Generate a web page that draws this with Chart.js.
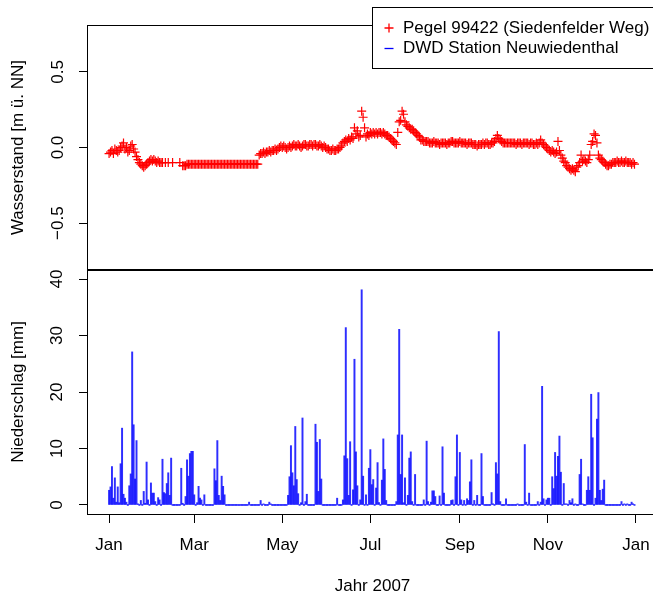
<!DOCTYPE html>
<html>
<head>
<meta charset="utf-8">
<title>Wasserstand und Niederschlag 2007</title>
<script src="https://cdn.jsdelivr.net/npm/chart.js@4/dist/chart.umd.min.js"></script>
<style>
  html, body { margin: 0; padding: 0; background: #fff; overflow: hidden; width: 653px; height: 595px; }
  #wrap { position: relative; width: 653px; height: 595px; overflow: hidden; }
  canvas { position: absolute; left: 0; }
  #levelChart { top: 0; }
  #rainChart { top: 268px; }
</style>
</head>
<body>
<div id="wrap">
  <canvas id="levelChart" width="660" height="272"></canvas>
  <canvas id="rainChart" width="660" height="327"></canvas>
</div>
<script>
// Daily water level at gauge 99422 in 2007, m above NN (index = day of year, 0 = 1 Jan; null = no reading)
const levelM = [
  -0.04,-0.03,-0.02,-0.04,-0.01,-0.02,-0.03,-0.02,0.00,0.01,
  0.03,-0.01,0.00,-0.03,-0.02,0.01,0.02,-0.01,-0.03,-0.06,
  -0.08,-0.10,-0.11,-0.12,-0.13,-0.12,-0.11,-0.10,-0.09,-0.08,
  -0.09,-0.08,-0.09,-0.10,-0.09,-0.10,-0.10,-0.10,null,-0.10,
  null,-0.10,null,null,-0.10,null,null,null,null,-0.10,
  null,-0.12,-0.12,-0.12,-0.11,-0.11,-0.11,-0.11,-0.11,-0.11,
  -0.11,-0.11,-0.11,-0.11,-0.11,-0.11,-0.11,-0.11,-0.11,-0.11,
  -0.11,-0.11,-0.11,-0.11,-0.11,-0.11,-0.11,-0.11,-0.11,-0.11,
  -0.11,-0.11,-0.11,-0.11,-0.11,-0.11,-0.11,-0.11,-0.11,-0.11,
  -0.11,-0.11,-0.11,-0.11,-0.11,-0.11,-0.11,-0.11,-0.11,-0.11,
  -0.11,-0.11,-0.11,-0.11,-0.05,-0.04,-0.04,-0.03,-0.04,-0.03,
  -0.03,-0.02,-0.03,-0.02,-0.02,-0.01,-0.02,-0.01,0.00,0.01,
  0.00,0.01,0.00,-0.01,0.00,0.01,0.00,0.01,0.02,0.01,
  0.01,0.02,0.01,0.00,0.01,0.02,0.02,0.01,0.01,0.02,
  0.02,0.01,0.02,0.02,0.01,0.01,0.02,0.01,0.00,0.01,
  0.00,-0.01,-0.01,-0.02,-0.02,-0.01,-0.02,-0.02,-0.01,-0.01,
  0.00,0.01,0.03,0.04,0.05,0.04,0.06,0.05,0.07,0.06,
  0.13,0.09,0.11,0.07,0.08,0.24,0.20,0.13,0.07,0.09,
  0.08,0.10,0.09,0.10,0.09,0.10,0.09,0.10,0.10,0.09,
  0.10,0.09,0.08,0.08,0.07,0.06,0.05,0.04,0.03,0.02,
  0.10,0.17,0.18,0.24,0.22,0.17,0.15,0.14,0.13,0.12,
  0.12,0.11,0.10,0.09,0.08,0.07,0.05,0.05,0.04,0.04,
  0.04,0.04,0.03,0.03,0.03,0.04,0.03,0.03,0.03,0.02,
  0.03,0.03,0.03,0.03,0.02,0.03,0.03,0.04,0.04,0.03,
  0.03,0.03,0.03,0.04,0.03,0.03,0.03,0.03,0.02,0.03,
  0.03,0.03,0.02,0.02,0.02,0.01,0.02,0.02,0.02,0.03,
  0.02,0.03,0.03,0.02,0.02,0.03,0.03,0.04,0.06,0.08,
  0.06,0.05,0.04,0.03,0.03,0.03,0.03,0.03,0.03,0.03,
  0.03,0.03,0.02,0.03,0.03,0.03,0.02,0.03,0.03,0.03,
  0.03,0.02,0.03,0.03,0.02,0.02,0.03,0.02,0.03,0.05,
  0.03,0.02,0.01,0.00,-0.01,-0.02,-0.03,-0.02,-0.03,-0.04,
  -0.03,0.04,-0.02,-0.05,-0.07,-0.09,-0.10,-0.12,-0.13,-0.14,
  -0.15,-0.14,-0.15,-0.16,-0.13,-0.12,-0.10,-0.05,-0.09,-0.08,
  -0.09,-0.10,-0.08,-0.05,0.02,0.04,0.09,0.08,0.03,-0.05,
  -0.07,-0.08,-0.09,-0.10,-0.11,-0.12,-0.12,-0.11,-0.11,-0.10,
  -0.10,-0.10,-0.09,-0.10,-0.10,-0.09,-0.10,-0.10,-0.09,-0.10,
  -0.10,-0.10,-0.11,-0.10,-0.11
];

// Days of 2007 with precipitation at DWD station Neuwiedenthal (0 = 1 Jan) and the amount in mm
const rainDay = [
  0,1,2,3,4,5,6,7,8,9,10,11,12,14,15,16,17,18,19,20,22,24,25,26,27,29,30,31,32,34,35,37,38,39,40,41,42,43,
  50,51,53,54,55,56,57,58,59,61,62,63,64,66,73,74,75,76,77,78,79,80,97,105,107,111,112,
  124,125,126,127,128,129,130,131,133,134,136,137,143,144,145,146,147,158,162,163,164,165,166,167,169,170,171,172,174,175,176,178,
  180,181,182,183,185,186,187,189,190,191,192,199,200,201,202,203,204,205,207,208,209,210,212,218,220,221,223,224,225,226,229,231,232,
  237,238,240,241,243,244,246,248,249,250,251,253,255,258,259,265,266,268,269,270,271,275,283,288,289,291,297,299,
  300,301,303,304,305,307,308,309,310,311,312,313,315,316,317,319,320,321,323,326,327,328,331,332,333,334,335,337,338,339,340,341,342,343,
  355,357,359,362,363
];
const rainMm = [
  2.6,3.2,6.8,1.2,4.8,0.5,3.2,0.4,7.3,13.6,1.9,1.2,0.5,3.4,5.5,27.1,14.2,4.6,11.4,0.2,0.8,2.4,0.3,7.6,0.9,3.9,2.1,2.1,0.6,1.3,0.9,8.1,2.2,2.0,3.8,5.7,1.7,8.3,
  6.5,0.3,1.5,8.0,5.1,9.1,9.5,9.5,1.8,0.4,3.3,1.2,0.9,1.8,6.4,4.3,11.4,1.7,0.8,5.1,3.3,1.8,0.5,0.8,0.2,0.5,0.2,
  1.7,5.0,10.5,5.7,3.4,13.9,4.5,2.0,0.4,15.4,0.6,1.9,14.3,11.1,2.4,11.6,4.6,1.2,0.9,8.7,31.4,8.2,1.7,11.2,2.7,25.8,9.4,3.4,0.9,38.1,5.1,1.8,
  6.5,9.8,3.6,4.5,3.0,7.5,0.4,4.4,11.7,6.3,0.8,0.6,12.4,31.1,5.4,12.4,0.4,4.8,1.7,8.3,9.4,0.6,5.4,0.9,11.3,0.6,0.5,2.5,2.5,1.5,1.6,10.3,2.1,
  0.8,0.9,5.0,12.4,9.3,0.9,0.8,1.1,0.8,4.1,8.0,0.8,1.7,9.1,1.5,2.2,0.2,7.5,5.5,30.7,0.6,1.1,0.2,10.7,0.5,2.1,0.6,0.5,
  21.0,1.1,0.9,1.2,1.2,5.0,2.9,9.3,5.1,8.6,12.2,5.8,3.8,0.2,0.2,0.8,0.4,1.1,0.2,5.4,8.1,0.2,2.6,5.0,2.6,19.6,11.9,1.2,15.2,19.9,2.6,0.8,2.8,4.4,
  0.6,0.2,0.2,0.5,0.2
];
const daysInYear = 365;

// Axis ticks
const monthTickDays = [0, 59, 120, 181, 243, 304, 365];
const monthTickLabels = ['Jan', 'Mar', 'May', 'Jul', 'Sep', 'Nov', 'Jan'];
const levelTicks = [-0.5, 0, 0.5];
const levelTickLabels = ['\u22120.5', '0.0', '0.5'];
const rainTicks = [0, 10, 20, 30, 40];
const rainTickLabels = ['0', '10', '20', '30', '40'];

const legendLabels = ['Pegel 99422 (Siedenfelder Weg)', 'DWD Station Neuwiedenthal'];

// Point and bar data for the library
const levelPoints = levelM.map((v, i) => ({ x: i, y: v }));
const rainByDay = new Map(rainDay.map((d, i) => [d, rainMm[i]]));
const rainBars = [];
for (let d = 0; d < daysInYear; d++) rainBars.push({ x: d, y: rainByDay.has(d) ? rainByDay.get(d) : 0 });

const FONT_FAMILY = "'Liberation Sans', Arial, Helvetica, sans-serif";
const FONT_SIZE = 17;
Chart.defaults.font.family = FONT_FAMILY;
Chart.defaults.font.size = FONT_SIZE;
Chart.defaults.color = '#000';

const RED = '#ff0000';
const BLUE = '#0000ff';

// Frame lines around the plot region
const framePlugin = {
  id: 'frame',
  afterDatasetsDraw(chart, args, opts) {
    const { ctx, chartArea: a } = chart;
    ctx.save();
    ctx.strokeStyle = '#000';
    ctx.lineWidth = 1;
    ctx.beginPath();
    if (opts.top) { ctx.moveTo(a.left - 1, a.top + 0.5); ctx.lineTo(a.right, a.top + 0.5); }
    if (opts.bottomInside) { ctx.moveTo(a.left - 1, a.bottom - 0.5); ctx.lineTo(a.right, a.bottom - 0.5); }
    if (opts.bottomOutside) { ctx.moveTo(a.left - 1, a.bottom + 0.5); ctx.lineTo(a.right, a.bottom + 0.5); }
    ctx.moveTo(a.left - 0.5, a.top); ctx.lineTo(a.left - 0.5, a.bottom + (opts.bottomOutside ? 1 : 0));
    ctx.stroke();
    ctx.restore();
  }
};

// Boxed legend in the upper right corner of the water level panel
const boxLegendPlugin = {
  id: 'boxLegend',
  afterDraw(chart) {
    const ctx = chart.ctx;
    const x0 = 372, y0 = 7, w = 300, h = 61;
    ctx.save();
    ctx.fillStyle = '#fff';
    ctx.fillRect(x0, y0, w, h);
    ctx.strokeStyle = '#000';
    ctx.lineWidth = 1;
    ctx.strokeRect(x0 + 0.5, y0 + 0.5, w, h);
    const rows = [y0 + 21, y0 + 41.5];
    const mx = 389;
    ctx.strokeStyle = RED;
    ctx.lineWidth = 1.3;
    ctx.beginPath();
    ctx.moveTo(mx - 4.5, rows[0]); ctx.lineTo(mx + 4.5, rows[0]);
    ctx.moveTo(mx, rows[0] - 4.5); ctx.lineTo(mx, rows[0] + 4.5);
    ctx.stroke();
    ctx.strokeStyle = BLUE;
    ctx.beginPath();
    ctx.moveTo(mx - 4.5, rows[1]); ctx.lineTo(mx + 4.5, rows[1]);
    ctx.stroke();
    ctx.fillStyle = '#000';
    ctx.font = FONT_SIZE + 'px ' + FONT_FAMILY;
    ctx.textBaseline = 'middle';
    ctx.textAlign = 'left';
    ctx.fillText(legendLabels[0], 403, rows[0]);
    ctx.fillText(legendLabels[1], 403, rows[1]);
    ctx.restore();
  }
};

const xRange = { min: -14.6, max: 379.6 };

function tickSetter(values) {
  return scale => { scale.ticks = values.map(v => ({ value: v })); };
}
// Fixed axis thickness, no extra room reserved for overhanging labels
function fixWidth(w) {
  return s => { s.width = w; s.paddingTop = 0; s.paddingBottom = 0; s.paddingLeft = 0; s.paddingRight = 0; };
}
function fixHeight(h) {
  return s => { s.height = h; s.paddingTop = 0; s.paddingBottom = 0; s.paddingLeft = 0; s.paddingRight = 0; };
}

new Chart(document.getElementById('levelChart'), {
  type: 'scatter',
  data: {
    datasets: [{
      label: legendLabels[0],
      data: levelPoints,
      pointStyle: 'cross',
      pointRadius: 4.5,
      pointHoverRadius: 4.5,
      borderColor: RED,
      backgroundColor: RED,
      borderWidth: 1.2,
      showLine: false
    }]
  },
  options: {
    responsive: false,
    animation: false,
    devicePixelRatio: 1,
    events: [],
    layout: { autoPadding: false, padding: { top: 25, right: 3, bottom: 2, left: 0 } },
    plugins: {
      legend: { display: false },
      tooltip: { enabled: false },
      frame: { top: true, bottomInside: true }
    },
    scales: {
      x: {
        type: 'linear',
        min: xRange.min, max: xRange.max,
        display: false
      },
      y: {
        type: 'linear',
        min: -0.81, max: 0.81,
        afterBuildTicks: tickSetter(levelTicks),
        afterFit: fixWidth(88),
        border: { display: false },
        grid: { drawOnChartArea: false, drawTicks: true, tickLength: 9, color: '#000', tickColor: '#000', lineWidth: 1 },
        ticks: {
          minRotation: 90, maxRotation: 90,
          crossAlign: 'center',
          padding: 4,
          color: '#000',
          callback: (v, i) => levelTickLabels[i]
        },
        title: {
          display: true,
          text: 'Wasserstand [m ü. NN]',
          color: '#000',
          padding: { top: 8, bottom: 0 }
        }
      }
    }
  },
  plugins: [framePlugin, boxLegendPlugin]
});

new Chart(document.getElementById('rainChart'), {
  type: 'bar',
  data: {
    datasets: [{
      label: legendLabels[1],
      data: rainBars,
      backgroundColor: 'rgba(0,0,255,0.82)',
      borderWidth: 0,
      barThickness: 1.3,
      minBarLength: 1
    }]
  },
  options: {
    responsive: false,
    animation: false,
    devicePixelRatio: 1,
    events: [],
    layout: { autoPadding: false, padding: { top: 2, right: 3, bottom: 0, left: 0 } },
    plugins: {
      legend: { display: false },
      tooltip: { enabled: false },
      frame: { top: true, bottomOutside: true }
    },
    scales: {
      x: {
        type: 'linear',
        min: xRange.min, max: xRange.max,
        offset: false,
        afterBuildTicks: tickSetter(monthTickDays),
        afterFit: fixHeight(81),
        border: { display: false },
        grid: { offset: false, drawOnChartArea: false, drawTicks: true, tickLength: 9, color: '#000', tickColor: '#000', lineWidth: 1 },
        ticks: {
          autoSkip: false,
          maxRotation: 0, minRotation: 0,
          padding: 12,
          color: '#000',
          callback: (v, i) => monthTickLabels[i]
        },
        title: {
          display: true,
          text: 'Jahr 2007',
          color: '#000',
          padding: { top: 0, bottom: -2 }
        }
      },
      y: {
        type: 'linear',
        min: -1.6, max: 41.6,
        afterBuildTicks: tickSetter(rainTicks),
        afterFit: fixWidth(88),
        border: { display: false },
        grid: { drawOnChartArea: false, drawTicks: true, tickLength: 9, color: '#000', tickColor: '#000', lineWidth: 1 },
        ticks: {
          minRotation: 90, maxRotation: 90,
          crossAlign: 'center',
          padding: 12,
          color: '#000',
          callback: (v, i) => rainTickLabels[i]
        },
        title: {
          display: true,
          text: 'Niederschlag [mm]',
          color: '#000',
          padding: { top: 8, bottom: 0 }
        }
      }
    }
  },
  plugins: [framePlugin]
});
</script>
</body>
</html>
